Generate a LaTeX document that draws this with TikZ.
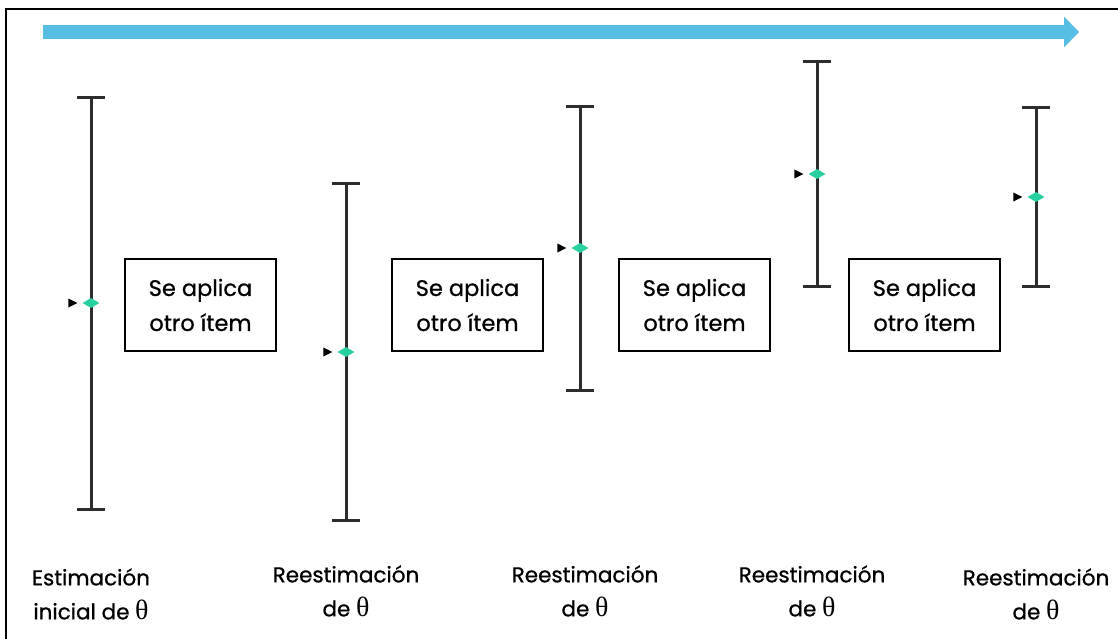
\documentclass[tikz,border=0pt]{standalone}
\usepackage{fontspec}
\setmainfont{Poppins}[FakeBold=0.8]
\newfontfamily\thetafont{Liberation Serif}[Scale=1.3]
\usetikzlibrary{arrows.meta,shapes.geometric}
\definecolor{arrowblue}{RGB}{86,190,226}
\definecolor{mint}{RGB}{38,208,160}
\definecolor{barcol}{RGB}{45,45,45}
\newcommand{\thsym}{{\thetafont θ}}
\tikzset{
  barline/.style={draw=barcol, line width=3pt},
  estmark/.style={diamond, fill=mint, inner sep=0pt, minimum width=17pt, minimum height=10pt, aspect=1.7},
  itembox/.style={draw=black, line width=1.8pt, minimum width=151pt, minimum height=92pt, align=center, font=\fontsize{22.5}{35}\selectfont, inner sep=0pt},
  lbl/.style={align=center, font=\fontsize{21.5}{34}\selectfont, inner sep=0pt},
}
\begin{document}
\begin{tikzpicture}[x=1pt,y=-1pt]
\useasboundingbox (0,0) rectangle (1118,639);
\draw[black, line width=1.3pt] (6,639) -- (6,9) -- (1118,9);
% progress arrow
\coordinate (as) at (43,32);
\coordinate (ae) at (1079,32);
\draw[arrowblue, line width=14pt, -{Triangle[length=15pt,width=30pt]}] (as) -- (ae);
% bars
\foreach \n/\x/\t/\b/\m in {1/91/98/509/303, 2/346/184/520/352, 3/580/107/390/248, 4/817/62/286/174, 5/1036/108/286/197}{
  \coordinate (t\n) at (\x,\t);
  \coordinate (b\n) at (\x,\b);
  \draw[barline] (t\n) -- (b\n);
  \draw[barline] ([xshift=-14pt]t\n) -- ([xshift=14pt]t\n);
  \draw[barline] ([xshift=-14pt]b\n) -- ([xshift=14pt]b\n);
  \node[estmark] (e\n) at (\x,\m) {};
  \fill[black] ([xshift=-5pt]e\n.west) -- ++(-9,-4.5) -- ++(0,9) -- cycle;
}
% boxes
\node[itembox] (k1) at (200.5,305) {Se aplica\\otro ítem};
\node[itembox] (k2) at (467.5,305) {Se aplica\\otro ítem};
\node[itembox] (k3) at (694.5,305) {Se aplica\\otro ítem};
\node[itembox] (k4) at (924.5,305) {Se aplica\\otro ítem};
% labels
\node[lbl] (l1) at (91,594) {Estimación\\inicial de \thsym};
\node[lbl] (l2) at (346,591) {Reestimación\\de \thsym};
\node[lbl] (l3) at (585,591) {Reestimación\\de \thsym};
\node[lbl] (l4) at (812,591) {Reestimación\\de \thsym};
\node[lbl] (l5) at (1036,594) {Reestimación\\de \thsym};
\end{tikzpicture}
\end{document}
